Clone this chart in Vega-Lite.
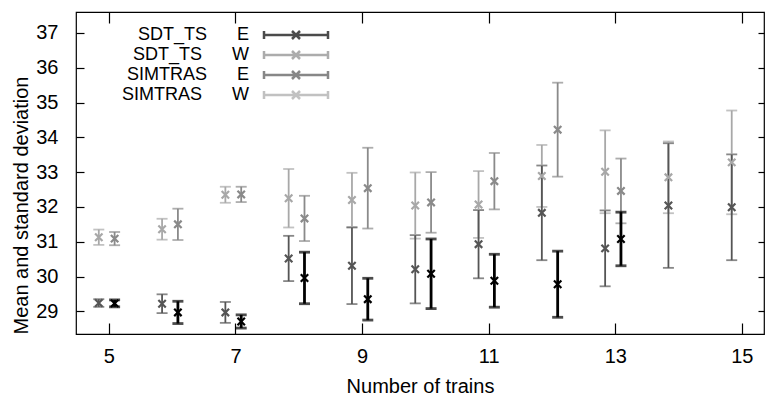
{
  "$schema": "https://vega.github.io/schema/vega-lite/v6.json",
  "width": 688,
  "height": 322,
  "autosize": "none",
  "padding": {"left": 76, "top": 12, "right": 1, "bottom": 68},
  "background": "white",
  "data": {
    "values": [
      {"x": 5.09, "series": "SDT_TS W", "mean": 31.09, "sd": 0.19},
      {"x": 6.09, "series": "SDT_TS W", "mean": 31.5, "sd": 0.45},
      {"x": 7.09, "series": "SDT_TS W", "mean": 32.36, "sd": 0.22},
      {"x": 8.09, "series": "SDT_TS W", "mean": 31.67, "sd": 0.65},
      {"x": 9.09, "series": "SDT_TS W", "mean": 32.54, "sd": 1.16},
      {"x": 10.09, "series": "SDT_TS W", "mean": 32.13, "sd": 0.87},
      {"x": 11.09, "series": "SDT_TS W", "mean": 32.74, "sd": 0.81},
      {"x": 12.09, "series": "SDT_TS W", "mean": 34.22, "sd": 1.35},
      {"x": 13.09, "series": "SDT_TS W", "mean": 32.46, "sd": 0.93},
      {"x": 4.84, "series": "SIMTRAS W", "mean": 31.13, "sd": 0.22},
      {"x": 5.84, "series": "SIMTRAS W", "mean": 31.36, "sd": 0.3},
      {"x": 6.84, "series": "SIMTRAS W", "mean": 32.35, "sd": 0.23},
      {"x": 7.84, "series": "SIMTRAS W", "mean": 32.25, "sd": 0.84},
      {"x": 8.84, "series": "SIMTRAS W", "mean": 32.2, "sd": 0.78},
      {"x": 9.84, "series": "SIMTRAS W", "mean": 32.04, "sd": 0.95},
      {"x": 10.84, "series": "SIMTRAS W", "mean": 32.07, "sd": 0.96},
      {"x": 11.84, "series": "SIMTRAS W", "mean": 32.89, "sd": 0.89},
      {"x": 12.84, "series": "SIMTRAS W", "mean": 33.01, "sd": 1.19},
      {"x": 13.84, "series": "SIMTRAS W", "mean": 32.85, "sd": 1.03},
      {"x": 14.84, "series": "SIMTRAS W", "mean": 33.28, "sd": 1.49},
      {"x": 4.84, "series": "SIMTRAS E", "mean": 29.24, "sd": 0.11},
      {"x": 5.84, "series": "SIMTRAS E", "mean": 29.22, "sd": 0.27},
      {"x": 6.84, "series": "SIMTRAS E", "mean": 28.97, "sd": 0.3},
      {"x": 7.84, "series": "SIMTRAS E", "mean": 30.52, "sd": 0.65},
      {"x": 8.84, "series": "SIMTRAS E", "mean": 30.31, "sd": 1.1},
      {"x": 9.84, "series": "SIMTRAS E", "mean": 30.21, "sd": 0.98},
      {"x": 10.84, "series": "SIMTRAS E", "mean": 30.93, "sd": 0.98},
      {"x": 11.84, "series": "SIMTRAS E", "mean": 31.83, "sd": 1.36},
      {"x": 12.84, "series": "SIMTRAS E", "mean": 30.81, "sd": 1.09},
      {"x": 13.84, "series": "SIMTRAS E", "mean": 32.04, "sd": 1.79},
      {"x": 14.84, "series": "SIMTRAS E", "mean": 31.99, "sd": 1.52},
      {"x": 5.09, "series": "SDT_TS E", "mean": 29.23, "sd": 0.1},
      {"x": 6.09, "series": "SDT_TS E", "mean": 28.97, "sd": 0.32},
      {"x": 7.09, "series": "SDT_TS E", "mean": 28.71, "sd": 0.19},
      {"x": 8.09, "series": "SDT_TS E", "mean": 29.96, "sd": 0.74},
      {"x": 9.09, "series": "SDT_TS E", "mean": 29.35, "sd": 0.6},
      {"x": 10.09, "series": "SDT_TS E", "mean": 30.08, "sd": 1.0},
      {"x": 11.09, "series": "SDT_TS E", "mean": 29.88, "sd": 0.76},
      {"x": 12.09, "series": "SDT_TS E", "mean": 29.78, "sd": 0.95},
      {"x": 13.09, "series": "SDT_TS E", "mean": 31.08, "sd": 0.77}
    ]
  },
  "resolve": {"axis": {"x": "independent", "y": "independent"}},
  "layer": [
    {
      "transform": [{"filter": "datum.series != 'SDT_TS E'"}],
      "mark": {"type": "errorbar", "ticks": {"size": 11}, "thickness": 1.8},
      "encoding": {
        "x": {
          "field": "x", "type": "quantitative",
          "scale": {"domain": [4.48, 15.35], "nice": false, "zero": false},
          "axis": {
            "values": [5, 7, 9, 11, 13, 15], "tickSize": -11, "labelPadding": 23,
            "title": "Number of trains", "titlePadding": 10, "grid": false, "domain": false
          }
        },
        "y": {
          "field": "mean", "type": "quantitative",
          "scale": {"domain": [28.35, 37.6], "nice": false, "zero": false},
          "axis": {
            "values": [29, 30, 31, 32, 33, 34, 35, 36, 37], "tickSize": -8, "labelPadding": 26,
            "title": "Mean and standard deviation", "titleAnchor": "start", "titlePadding": 4,
            "grid": false, "domain": false
          }
        },
        "yError": {"field": "sd"},
        "color": {
          "field": "series", "type": "nominal",
          "scale": {
            "domain": ["SDT_TS E", "SDT_TS W", "SIMTRAS E", "SIMTRAS W"],
            "range": ["#000000", "#8a8a8a", "#555555", "#a8a8a8"]
          },
          "legend": {
            "title": null, "orient": "none", "legendX": 211, "legendY": 14,
            "symbolType": "M-8,-1L-8,1M-8,0L8,0M8,-1L8,1M-1,-1L1,1M-1,1L1,-1",
            "symbolSize": 64, "symbolStrokeWidth": 2.5, "symbolOpacity": 1,
            "labelAlign": "right", "labelOffset": -56, "labelFontSize": 18,
            "labelColor": "black", "rowPadding": 2,
            "labelExpr": "replace(datum.label, ' ', '\u00a0\u00a0\u00a0\u00a0\u00a0\u00a0')"
          }
        }
      }
    },
    {
      "transform": [{"filter": "datum.series == 'SDT_TS E'"}],
      "mark": {"type": "errorbar", "ticks": {"size": 11}, "thickness": 2.8},
      "encoding": {
        "x": {"field": "x", "type": "quantitative", "axis": null},
        "y": {"field": "mean", "type": "quantitative", "axis": null},
        "yError": {"field": "sd"},
        "color": {"field": "series", "type": "nominal"}
      }
    },
    {
      "mark": {"type": "point", "shape": "M-1,-1L1,1M-1,1L1,-1", "filled": false, "size": 55, "strokeWidth": 2.2, "opacity": 1},
      "encoding": {
        "x": {
          "field": "x", "type": "quantitative",
          "axis": {"orient": "top", "values": [5, 7, 9, 11, 13, 15], "tickSize": -11, "labels": false, "title": null, "grid": false, "domain": false}
        },
        "y": {
          "field": "mean", "type": "quantitative",
          "axis": {"orient": "right", "values": [29, 30, 31, 32, 33, 34, 35, 36, 37], "tickSize": -6, "labels": false, "title": null, "grid": false, "domain": false}
        },
        "color": {"field": "series", "type": "nominal"}
      }
    }
  ],
  "config": {
    "font": "Liberation Sans",
    "view": {"stroke": "black", "strokeWidth": 1.2},
    "axis": {
      "labelFontSize": 20, "titleFontSize": 20, "titleFontWeight": "normal",
      "labelColor": "black", "titleColor": "black", "tickColor": "black", "tickWidth": 1.2
    }
  }
}
